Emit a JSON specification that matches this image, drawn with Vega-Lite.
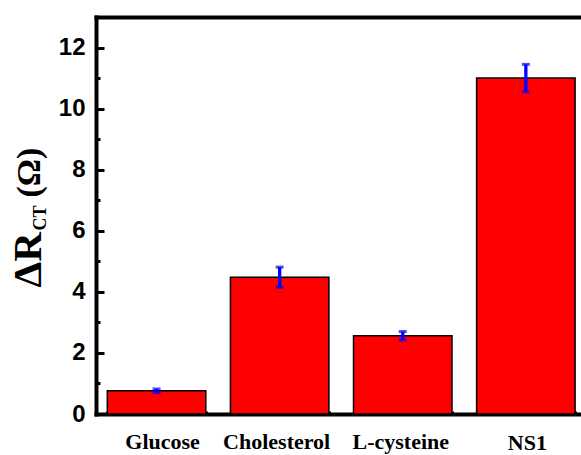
{
  "$schema": "https://vega.github.io/schema/vega-lite/v6.json",
  "width": 485,
  "height": 397,
  "autosize": "none",
  "padding": {"left": 96, "top": 17, "right": 0, "bottom": 41},
  "background": "white",
  "config": {
    "view": {"stroke": null},
    "axis": {
      "grid": false,
      "domainColor": "black",
      "tickColor": "black",
      "labelColor": "black",
      "titleColor": "black",
      "zindex": 1
    }
  },
  "data": {
    "values": [
      {"analyte": "Glucose", "dRct": 0.76, "err": 0.06},
      {"analyte": "Cholesterol", "dRct": 4.48, "err": 0.33},
      {"analyte": "L-cysteine", "dRct": 2.56, "err": 0.14},
      {"analyte": "NS1", "dRct": 11.0, "err": 0.45}
    ]
  },
  "layer": [
    {
      "mark": {"type": "bar", "color": "#ff0000"},
      "encoding": {
        "x": {
          "field": "analyte", "type": "nominal", "sort": null,
          "scale": {"paddingInner": 0.2, "paddingOuter": 0.07, "align": 0.657},
          "axis": {
            "orient": "bottom",
            "title": null,
            "domainWidth": 4,
            "domainCap": "square",
            "tickSize": -7,
            "tickWidth": 3,
            "labelAngle": 0,
            "labelFont": "Liberation Serif",
            "labelFontWeight": "bold",
            "labelFontSize": 22,
            "labelOffset": {
              "condition": [
                {"test": "datum.value === 'Glucose'", "value": 6},
                {"test": "datum.value === 'Cholesterol'", "value": -3},
                {"test": "datum.value === 'L-cysteine'", "value": -2}
              ],
              "value": 1.5
            },
            "labelPadding": {
              "condition": {"test": "datum.value === 'NS1'", "value": 25.5},
              "value": 24.5
            }
          }
        },
        "y": {
          "field": "dRct", "type": "quantitative",
          "scale": {"domain": [0, 13], "nice": false, "zero": true},
          "axis": {
            "orient": "left",
            "values": [0, 2, 4, 6, 8, 10, 12],
            "domainWidth": 4,
            "domainCap": "square",
            "tickSize": -8,
            "tickWidth": 3,
            "labelFont": "Liberation Sans",
            "labelFontWeight": "bold",
            "labelFontSize": 24,
            "labelPadding": 19,
            "title": "ΔR",
            "titleFont": "Liberation Serif",
            "titleFontWeight": "bold",
            "titleFontSize": 41,
            "titleAngle": 270,
            "titleAlign": "left",
            "titleBaseline": "alphabetic",
            "titleX": -56,
            "titleY": 270
          }
        }
      }
    },
    {
      "mark": {"type": "bar", "fillOpacity": 0, "stroke": "black", "strokeWidth": 1.5},
      "encoding": {
        "x": {
          "field": "analyte", "type": "nominal", "sort": null,
          "axis": {
            "orient": "bottom",
            "title": null,
            "domain": false,
            "labels": false,
            "tickBand": "extent",
            "tickSize": -3,
            "tickWidth": 3
          }
        },
        "y": {
          "field": "dRct", "type": "quantitative",
          "axis": {
            "orient": "left",
            "values": [1, 3, 5, 7, 9, 11],
            "domain": false,
            "labels": false,
            "tickSize": -4,
            "tickWidth": 3,
            "title": "CT",
            "titleFont": "Liberation Serif",
            "titleFontWeight": "bold",
            "titleFontSize": 18,
            "titleAngle": 270,
            "titleAlign": "left",
            "titleBaseline": "alphabetic",
            "titleX": -51,
            "titleY": 213
          }
        }
      }
    },
    {
      "mark": {
        "type": "errorbar",
        "color": "#0000ff",
        "thickness": 3.3,
        "ticks": {"size": 8, "thickness": 3, "color": "#0000ff"}
      },
      "encoding": {
        "x": {
          "field": "analyte", "type": "nominal", "sort": null,
          "axis": {
            "orient": "top",
            "title": null,
            "domainWidth": 4,
            "domainCap": "square",
            "ticks": false,
            "labels": false
          }
        },
        "y": {
          "field": "dRct", "type": "quantitative",
          "axis": {
            "orient": "left",
            "domain": false,
            "ticks": false,
            "labels": false,
            "title": "(Ω)",
            "titleFont": "Liberation Serif",
            "titleFontWeight": "bold",
            "titleFontSize": 34,
            "titleAngle": 270,
            "titleAlign": "left",
            "titleBaseline": "alphabetic",
            "titleX": -57,
            "titleY": 180
          }
        },
        "yError": {"field": "err"}
      }
    }
  ],
  "resolve": {"axis": {"x": "independent", "y": "independent"}}
}
